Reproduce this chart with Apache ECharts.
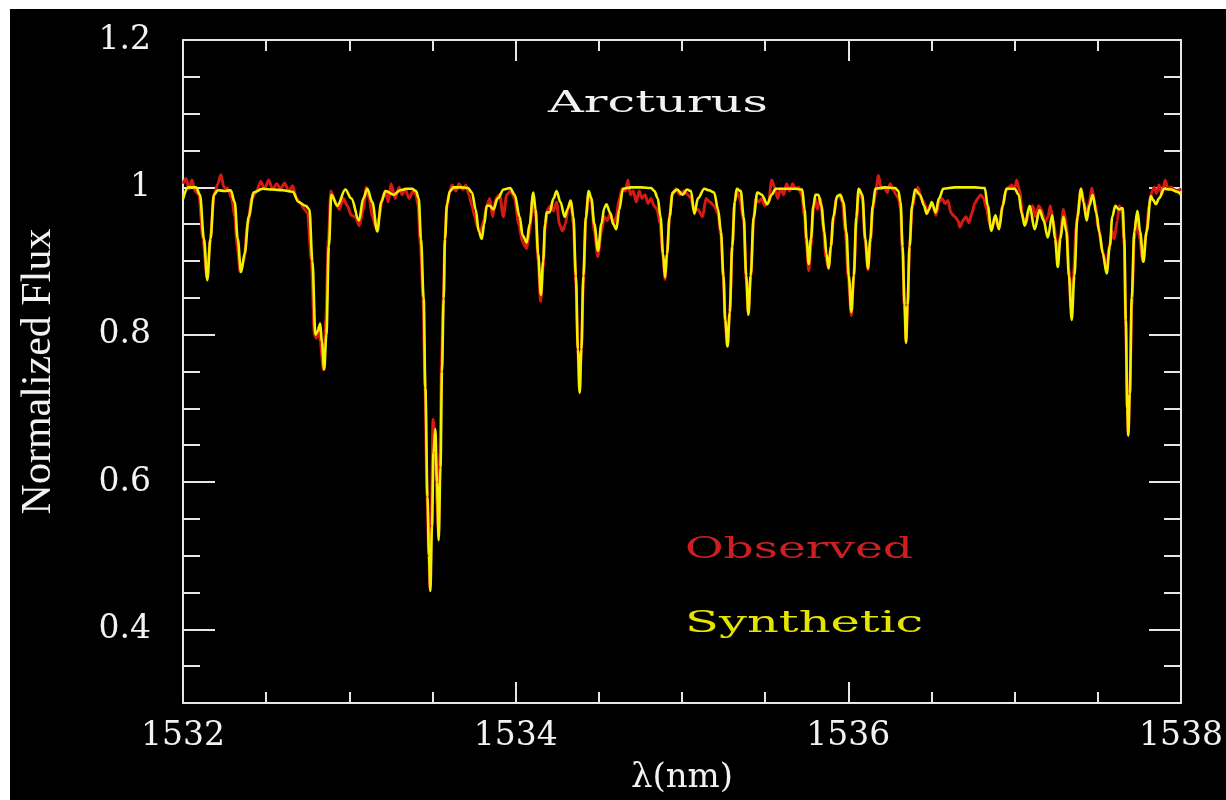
<!DOCTYPE html>
<html lang="en">
<head>
    <meta charset="UTF-8">
    <title>Arcturus - Observed vs Synthetic</title>
    <script src="https://cdn.jsdelivr.net/npm/echarts@6.0.0/dist/echarts.min.js"></script>
    <style>
        body { margin: 0; background: #fff; }
        #chart {
            position: absolute;
            left: 10px;
            top: 9px;
            width: 1216px;
            height: 791px;
            background: #000;
        }
    </style>
</head>
<body>
<div id="chart"></div>
<script>
    // 合成光谱 (Synthetic)
    var synWave = [
        1532.000, 1532.030, 1532.078, 1532.102, 1532.126, 1532.146, 1532.165, 1532.186, 1532.210, 1532.251,
        1532.287, 1532.311, 1532.329, 1532.349, 1532.371, 1532.395, 1532.425, 1532.479, 1532.539, 1532.599,
        1532.659, 1532.695, 1532.737, 1532.760, 1532.778, 1532.796, 1532.811, 1532.825, 1532.835, 1532.849,
        1532.862, 1532.877, 1532.892, 1532.928, 1532.976, 1533.012, 1533.058, 1533.084, 1533.108, 1533.138,
        1533.168, 1533.192, 1533.217, 1533.268, 1533.305, 1533.347, 1533.377, 1533.401, 1533.417, 1533.431,
        1533.447, 1533.457, 1533.470, 1533.479, 1533.487, 1533.497, 1533.506, 1533.517, 1533.527, 1533.537,
        1533.548, 1533.557, 1533.567, 1533.575, 1533.587, 1533.605, 1533.627, 1533.677, 1533.713, 1533.737,
        1533.760, 1533.778, 1533.796, 1533.811, 1533.826, 1533.844, 1533.866, 1533.892, 1533.928, 1533.966,
        1533.994, 1534.024, 1534.042, 1534.066, 1534.084, 1534.106, 1534.120, 1534.135, 1534.152, 1534.165,
        1534.177, 1534.186, 1534.204, 1534.228, 1534.246, 1534.269, 1534.295, 1534.311, 1534.331, 1534.347,
        1534.362, 1534.374, 1534.385, 1534.395, 1534.407, 1534.422, 1534.439, 1534.455, 1534.473, 1534.495,
        1534.515, 1534.533, 1534.545, 1534.569, 1534.587, 1534.605, 1534.623, 1534.645, 1534.695, 1534.754,
        1534.814, 1534.834, 1534.854, 1534.871, 1534.886, 1534.898, 1534.910, 1534.925, 1534.944, 1534.970,
        1535.004, 1535.030, 1535.054, 1535.074, 1535.096, 1535.134, 1535.162, 1535.193, 1535.217, 1535.234,
        1535.249, 1535.260, 1535.274, 1535.287, 1535.302, 1535.317, 1535.329, 1535.353, 1535.371, 1535.386,
        1535.399, 1535.413, 1535.431, 1535.453, 1535.479, 1535.513, 1535.539, 1535.563, 1535.623, 1535.683,
        1535.723, 1535.737, 1535.749, 1535.762, 1535.775, 1535.790, 1535.802, 1535.820, 1535.838, 1535.856,
        1535.868, 1535.882, 1535.895, 1535.910, 1535.932, 1535.952, 1535.970, 1535.988, 1536.003, 1536.018,
        1536.033, 1536.048, 1536.062, 1536.084, 1536.102, 1536.118, 1536.132, 1536.147, 1536.162, 1536.222,
        1536.281, 1536.301, 1536.314, 1536.326, 1536.338, 1536.347, 1536.356, 1536.368, 1536.383, 1536.401,
        1536.431, 1536.455, 1536.471, 1536.485, 1536.501, 1536.525, 1536.545, 1536.571, 1536.641, 1536.701,
        1536.760, 1536.820, 1536.838, 1536.860, 1536.884, 1536.906, 1536.928, 1536.950, 1537.000, 1537.024,
        1537.042, 1537.060, 1537.090, 1537.120, 1537.150, 1537.174, 1537.199, 1537.226, 1537.243, 1537.259,
        1537.275, 1537.293, 1537.311, 1537.326, 1537.343, 1537.359, 1537.377, 1537.399, 1537.413, 1537.433,
        1537.449, 1537.469, 1537.491, 1537.509, 1537.530, 1537.553, 1537.572, 1537.587, 1537.605, 1537.626,
        1537.649, 1537.659, 1537.668, 1537.677, 1537.683, 1537.692, 1537.704, 1537.719, 1537.738, 1537.754,
        1537.774, 1537.793, 1537.819, 1537.832, 1537.849, 1537.868, 1537.898, 1537.940, 1537.976, 1538.000
    ];
    var synFlux = [
        0.984, 1.000, 1.000, 0.990, 0.930, 0.874, 0.930, 0.990, 0.996, 0.995,
        0.996, 0.980, 0.930, 0.885, 0.910, 0.960, 0.993, 0.998, 0.997, 0.996,
        0.994, 0.980, 0.975, 0.970, 0.900, 0.800, 0.805, 0.815, 0.790, 0.753,
        0.800, 0.920, 0.990, 0.975, 0.997, 0.985, 0.955, 0.985, 0.998, 0.980,
        0.940, 0.980, 0.995, 0.990, 0.996, 0.998, 0.998, 0.995, 0.985, 0.930,
        0.849, 0.728, 0.580, 0.500, 0.452, 0.540, 0.640, 0.672, 0.600, 0.521,
        0.620, 0.750, 0.849, 0.930, 0.977, 0.995, 1.000, 1.000, 0.999, 0.993,
        0.970, 0.940, 0.930, 0.950, 0.975, 0.975, 0.970, 0.985, 0.997, 0.999,
        0.990, 0.960, 0.935, 0.925, 0.950, 0.993, 0.970, 0.910, 0.854, 0.900,
        0.950, 0.966, 0.966, 0.985, 0.995, 0.980, 0.960, 0.970, 0.982, 0.960,
        0.880, 0.780, 0.721, 0.780, 0.880, 0.960, 0.995, 0.985, 0.950, 0.914,
        0.950, 0.972, 0.977, 0.965, 0.950, 0.943, 0.970, 0.998, 1.000, 1.000,
        0.999, 0.995, 0.985, 0.960, 0.910, 0.878, 0.910, 0.960, 0.993, 0.997,
        0.990, 0.997, 0.995, 0.964, 0.985, 0.998, 0.996, 0.993, 0.970, 0.940,
        0.880, 0.820, 0.784, 0.830, 0.920, 0.980, 0.998, 0.995, 0.960, 0.880,
        0.827, 0.880, 0.960, 0.993, 0.990, 0.977, 0.990, 0.998, 0.998, 0.998,
        0.997, 0.970, 0.930, 0.896, 0.930, 0.975, 0.990, 0.990, 0.975, 0.940,
        0.910, 0.890, 0.920, 0.960, 0.988, 0.990, 0.980, 0.940, 0.880, 0.831,
        0.880, 0.960, 0.998, 0.990, 0.930, 0.890, 0.930, 0.975, 0.998, 1.000,
        0.999, 0.995, 0.980, 0.920, 0.840, 0.789, 0.840, 0.920, 0.975, 0.997,
        0.990, 0.975, 0.964, 0.970, 0.980, 0.966, 0.985, 0.998, 1.000, 1.000,
        1.000, 0.999, 0.975, 0.941, 0.962, 0.943, 0.975, 0.998, 0.998, 0.990,
        0.965, 0.948, 0.975, 0.943, 0.969, 0.955, 0.932, 0.962, 0.930, 0.892,
        0.930, 0.960, 0.940, 0.880, 0.820, 0.880, 0.960, 0.998, 0.980, 0.955,
        0.975, 0.990, 0.965, 0.939, 0.910, 0.883, 0.920, 0.960, 0.975, 0.970,
        0.972, 0.930, 0.820, 0.700, 0.663, 0.720, 0.850, 0.940, 0.968, 0.940,
        0.899, 0.940, 0.988, 0.983, 0.977, 0.985, 0.998, 0.997, 0.994, 0.990
    ];

    // 观测光谱 (Observed)
    var obsWave = [
        1532.000, 1532.018, 1532.036, 1532.054, 1532.072, 1532.096, 1532.120, 1532.144, 1532.165, 1532.186,
        1532.210, 1532.228, 1532.246, 1532.269, 1532.293, 1532.311, 1532.326, 1532.344, 1532.365, 1532.389,
        1532.413, 1532.443, 1532.467, 1532.491, 1532.515, 1532.539, 1532.563, 1532.587, 1532.611, 1532.635,
        1532.659, 1532.683, 1532.707, 1532.731, 1532.749, 1532.772, 1532.790, 1532.802, 1532.814, 1532.826,
        1532.844, 1532.859, 1532.874, 1532.889, 1532.916, 1532.940, 1532.964, 1532.988, 1533.012, 1533.036,
        1533.060, 1533.084, 1533.102, 1533.120, 1533.138, 1533.162, 1533.180, 1533.198, 1533.216, 1533.234,
        1533.251, 1533.275, 1533.299, 1533.317, 1533.335, 1533.359, 1533.383, 1533.401, 1533.413, 1533.428,
        1533.443, 1533.455, 1533.467, 1533.478, 1533.485, 1533.494, 1533.503, 1533.515, 1533.527, 1533.536,
        1533.545, 1533.554, 1533.565, 1533.575, 1533.584, 1533.599, 1533.617, 1533.641, 1533.659, 1533.683,
        1533.701, 1533.719, 1533.737, 1533.754, 1533.772, 1533.790, 1533.808, 1533.826, 1533.844, 1533.862,
        1533.880, 1533.904, 1533.926, 1533.946, 1533.970, 1533.994, 1534.018, 1534.042, 1534.066, 1534.084,
        1534.102, 1534.120, 1534.135, 1534.150, 1534.165, 1534.177, 1534.192, 1534.210, 1534.228, 1534.246,
        1534.263, 1534.281, 1534.299, 1534.317, 1534.332, 1534.347, 1534.362, 1534.374, 1534.383, 1534.395,
        1534.407, 1534.422, 1534.437, 1534.455, 1534.473, 1534.494, 1534.515, 1534.533, 1534.551, 1534.569,
        1534.587, 1534.605, 1534.623, 1534.641, 1534.659, 1534.675, 1534.689, 1534.707, 1534.725, 1534.743,
        1534.760, 1534.778, 1534.796, 1534.814, 1534.832, 1534.850, 1534.868, 1534.886, 1534.898, 1534.910,
        1534.925, 1534.940, 1534.964, 1534.988, 1535.012, 1535.036, 1535.054, 1535.074, 1535.096, 1535.124,
        1535.144, 1535.168, 1535.192, 1535.216, 1535.234, 1535.249, 1535.260, 1535.272, 1535.287, 1535.302,
        1535.317, 1535.329, 1535.347, 1535.371, 1535.386, 1535.398, 1535.413, 1535.431, 1535.443, 1535.461,
        1535.479, 1535.497, 1535.521, 1535.539, 1535.557, 1535.575, 1535.593, 1535.611, 1535.629, 1535.647,
        1535.665, 1535.683, 1535.701, 1535.719, 1535.737, 1535.749, 1535.762, 1535.775, 1535.790, 1535.802,
        1535.814, 1535.832, 1535.850, 1535.865, 1535.880, 1535.895, 1535.910, 1535.928, 1535.946, 1535.964,
        1535.982, 1536.000, 1536.018, 1536.033, 1536.048, 1536.063, 1536.084, 1536.102, 1536.118, 1536.132,
        1536.147, 1536.162, 1536.181, 1536.198, 1536.216, 1536.234, 1536.251, 1536.269, 1536.287, 1536.302,
        1536.314, 1536.326, 1536.338, 1536.347, 1536.356, 1536.368, 1536.383, 1536.401, 1536.419, 1536.437,
        1536.455, 1536.473, 1536.491, 1536.509, 1536.527, 1536.545, 1536.563, 1536.581, 1536.599, 1536.617,
        1536.641, 1536.659, 1536.671, 1536.689, 1536.707, 1536.725, 1536.743, 1536.760, 1536.778, 1536.796,
        1536.814, 1536.832, 1536.850, 1536.862, 1536.880, 1536.904, 1536.928, 1536.946, 1536.964, 1536.982,
        1537.000, 1537.012, 1537.030, 1537.048, 1537.066, 1537.084, 1537.108, 1537.126, 1537.144, 1537.162,
        1537.180, 1537.201, 1537.214, 1537.234, 1537.259, 1537.275, 1537.293, 1537.311, 1537.326, 1537.338,
        1537.353, 1537.371, 1537.399, 1537.413, 1537.431, 1537.449, 1537.464, 1537.485, 1537.503, 1537.527,
        1537.551, 1537.569, 1537.587, 1537.599, 1537.617, 1537.629, 1537.647, 1537.659, 1537.668, 1537.677,
        1537.683, 1537.692, 1537.704, 1537.719, 1537.734, 1537.749, 1537.770, 1537.790, 1537.808, 1537.826,
        1537.838, 1537.852, 1537.868, 1537.886, 1537.904, 1537.922, 1537.940, 1537.958, 1537.976, 1538.000
    ];
    var obsFlux = [
        1.005, 1.012, 0.998, 1.010, 0.995, 0.990, 0.930, 0.878, 0.930, 0.990,
        1.005, 1.017, 1.000, 0.998, 0.985, 0.960, 0.920, 0.885, 0.900, 0.950,
        0.985, 0.995, 1.008, 0.998, 1.010, 0.997, 1.005, 0.998, 1.006, 0.995,
        1.002, 0.985, 0.978, 0.970, 0.965, 0.900, 0.800, 0.795, 0.810, 0.790,
        0.752, 0.820, 0.930, 0.995, 0.980, 0.970, 0.985, 0.975, 0.962, 0.960,
        0.948, 0.970, 1.000, 0.985, 0.960, 0.945, 0.960, 0.985, 0.995, 0.980,
        1.005, 0.985, 1.000, 0.990, 0.998, 0.985, 0.995, 0.990, 0.975, 0.920,
        0.850, 0.730, 0.580, 0.500, 0.455, 0.560, 0.685, 0.660, 0.570, 0.535,
        0.640, 0.760, 0.850, 0.930, 0.970, 0.990, 1.003, 0.995, 1.005, 0.997,
        1.003, 0.990, 0.975, 0.960, 0.945, 0.940, 0.955, 0.975, 0.985, 0.960,
        0.985, 0.990, 0.960, 0.990, 0.995, 0.985, 0.950, 0.925, 0.917, 0.940,
        0.985, 0.960, 0.900, 0.845, 0.890, 0.945, 0.970, 0.975, 0.968, 0.980,
        0.950, 0.941, 0.950, 0.975, 0.980, 0.950, 0.870, 0.780, 0.725, 0.780,
        0.870, 0.955, 0.990, 0.980, 0.940, 0.906, 0.940, 0.960, 0.955, 0.965,
        0.950, 0.960, 0.985, 0.998, 0.995, 1.010, 0.990, 0.995, 0.980, 0.995,
        0.985, 0.990, 0.978, 0.985, 0.975, 0.970, 0.950, 0.905, 0.875, 0.910,
        0.960, 0.990, 0.998, 0.990, 0.995, 0.990, 0.985, 0.968, 0.970, 0.960,
        0.985, 0.980, 0.975, 0.965, 0.935, 0.875, 0.815, 0.785, 0.830, 0.920,
        0.980, 0.995, 0.985, 0.955, 0.875, 0.830, 0.880, 0.955, 0.985, 0.980,
        0.985, 0.975, 0.980, 1.010, 1.000, 0.985, 0.998, 0.990, 1.005, 0.995,
        1.005, 0.998, 1.000, 0.990, 0.960, 0.920, 0.887, 0.920, 0.970, 0.985,
        0.970, 0.985, 0.945, 0.905, 0.890, 0.920, 0.955, 0.985, 0.990, 0.980,
        0.940, 0.875, 0.826, 0.880, 0.950, 0.995, 0.985, 0.925, 0.888, 0.925,
        0.970, 0.990, 1.016, 0.998, 1.000, 0.993, 1.005, 0.997, 0.990, 0.985,
        0.970, 0.910, 0.835, 0.790, 0.840, 0.920, 0.970, 0.990, 1.000, 0.985,
        0.980, 0.965, 0.975, 0.975, 0.962, 0.980, 0.985, 0.978, 0.982, 0.965,
        0.960, 0.955, 0.946, 0.955, 0.960, 0.952, 0.965, 0.978, 0.985, 0.990,
        0.985, 0.970, 0.950, 0.943, 0.960, 0.945, 0.975, 0.995, 1.000, 1.003,
        0.998, 1.010, 0.995, 0.960, 0.950, 0.965, 0.975, 0.960, 0.975, 0.970,
        0.952, 0.960, 0.975, 0.950, 0.910, 0.935, 0.970, 0.950, 0.890, 0.836,
        0.880, 0.950, 0.998, 0.985, 0.962, 0.980, 0.999, 0.975, 0.945, 0.915,
        0.890, 0.920, 0.940, 0.930, 0.955, 0.975, 0.965, 0.920, 0.810, 0.700,
        0.665, 0.720, 0.840, 0.930, 0.960, 0.935, 0.900, 0.935, 0.975, 0.995,
        1.000, 0.992, 1.003, 0.990, 1.010, 0.998, 1.000, 0.997, 0.995, 0.998
    ];

    var xTickLabels = [1532, 1534, 1536, 1538];
    var yTickLabels = [0.4, 0.6, 0.8, 1, 1.2];

    function zip(xs, ys) {
        return xs.map(function (x, i) { return [x, ys[i]]; });
    }

    var frameColor = '#e6e6e6';
    var tickFont = {color: '#f2f2f2', fontSize: 33, fontFamily: 'DejaVu Serif'};

    function xFrame(position, showLabel) {
        return {
            type: 'value', position: position, min: 1532, max: 1538, interval: 2,
            axisLine: {show: true, onZero: false, lineStyle: {color: frameColor, width: 2}},
            axisTick: {show: true, inside: true, length: 21, lineStyle: {color: frameColor, width: 2}},
            minorTick: {show: true, splitNumber: 4, length: 11, lineStyle: {color: frameColor, width: 2}},
            axisLabel: Object.assign({
                show: showLabel, margin: 17, customValues: xTickLabels,
                formatter: function (v) { return String(v); }
            }, tickFont),
            splitLine: {show: false}, minorSplitLine: {show: false}
        };
    }

    function yFrame(position, major, showLabel) {
        var axis = {
            type: 'value', position: position, min: 0.3, max: 1.2, interval: 0.05,
            axisLine: {show: !major, onZero: false, lineStyle: {color: frameColor, width: 2}},
            axisTick: {show: true, inside: true, length: major ? 32 : 17, lineStyle: {color: frameColor, width: 2}},
            axisLabel: Object.assign({show: showLabel, margin: 32}, tickFont),
            splitLine: {show: false}
        };
        if (major) {
            axis.axisTick.customValues = yTickLabels;
            axis.axisLabel.customValues = yTickLabels;
        }
        return axis;
    }

    var chart = echarts.init(document.getElementById('chart'));

    var bottomX = xFrame('bottom', true);
    bottomX.name = 'λ(nm)';
    bottomX.nameLocation = 'middle';
    bottomX.nameGap = 58;
    bottomX.nameTextStyle = {color: '#f2f2f2', fontSize: 34, fontFamily: 'DejaVu Serif'};

    var leftY = yFrame('left', true, true);
    leftY.name = 'Normalized Flux';
    leftY.nameLocation = 'middle';
    leftY.nameGap = 123;
    leftY.nameTextStyle = {color: '#f2f2f2', fontSize: 42, fontFamily: 'Liberation Serif'};

    var option = {
        backgroundColor: '#000',
        animation: false,
        grid: {left: 170, right: 42, top: 31, bottom: 90, containLabel: false},
        xAxis: [bottomX, xFrame('top', false)],
        yAxis: [leftY, yFrame('left', false, false), yFrame('right', true, false), yFrame('right', false, false)],
        graphic: [
            {type: 'text', x: 538, y: 95, scaleX: 1.65,
                style: {text: 'Arcturus', fill: '#f2f2f2', font: '30px "DejaVu Serif"', verticalAlign: 'middle'}},
            {type: 'text', x: 675, y: 541, scaleX: 1.57,
                style: {text: 'Observed', fill: '#cc2020', font: '30px "DejaVu Serif"', verticalAlign: 'middle'}},
            {type: 'text', x: 675, y: 615, scaleX: 1.65,
                style: {text: 'Synthetic', fill: '#e4e400', font: '30px "DejaVu Serif"', verticalAlign: 'middle'}}
        ],
        series: [
            {
                name: 'Observed', type: 'line', xAxisIndex: 0, yAxisIndex: 0,
                data: zip(obsWave, obsFlux), showSymbol: false, smooth: 0.25, smoothMonotone: 'x',
                lineStyle: {color: '#d41a12', width: 3}
            },
            {
                name: 'Synthetic', type: 'line', xAxisIndex: 0, yAxisIndex: 0,
                data: zip(synWave, synFlux), showSymbol: false, smooth: 0.35, smoothMonotone: 'x',
                lineStyle: {color: '#f2f200', width: 2.6}
            }
        ]
    };

    chart.setOption(option);
</script>
</body>
</html>
